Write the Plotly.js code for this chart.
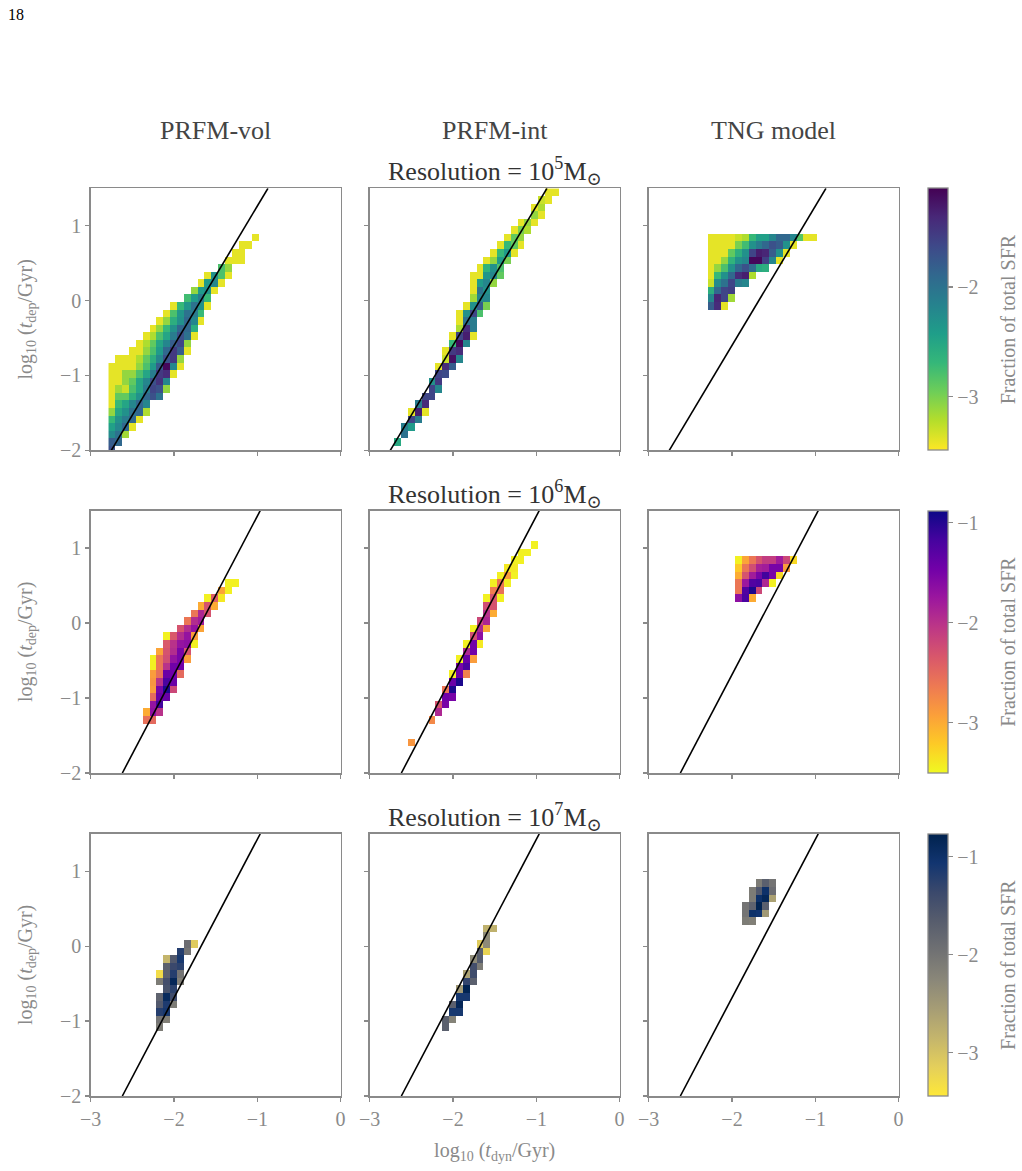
<!DOCTYPE html>
<html>
<head>
<meta charset="utf-8">
<script src="https://cdn.plot.ly/plotly-3.0.1.min.js"></script>
<style>html,body{margin:0;padding:0;background:#fff;}#plot{width:1022px;height:1171px;}</style>
</head>
<body>
<div id="plot"></div>
<script>
// ---------------- DATA ----------------
// shared histogram bin edges: log10(t_dyn/Gyr) (x) and log10(t_dep/Gyr) (y, top to bottom)
const tdynEdges = [-2.786,-2.704,-2.621,-2.539,-2.457,-2.375,-2.292,-2.210,-2.128,-2.045,-1.963,-1.881,-1.798,-1.716,-1.634,-1.552,-1.469,-1.387,-1.305,-1.222,-1.140,-1.058,-0.975,-0.893,-0.811,-0.729,-0.646];
const tdepEdges = [1.498,1.397,1.296,1.194,1.093,0.992,0.891,0.790,0.688,0.587,0.486,0.385,0.284,0.182,0.081,-0.020,-0.121,-0.222,-0.324,-0.425,-0.526,-0.627,-0.728,-0.830,-0.931,-1.032,-1.133,-1.234,-1.336,-1.437,-1.538,-1.639,-1.740,-1.842,-1.943,-2.044];

// each entry: [tdep bin index, first tdyn bin index, log10(fraction of total SFR) ...]
const vol5 = [
 [6,21,-3.4],[7,19,-3.4,-3.4],[8,18,-3.4,-3.4],[9,17,-3.4,-3.4,-3.4],[10,16,-2.8,-3.1],
 [11,14,-3.4,-2.3,-2.8,-3.4],[12,13,-3.4,-2.4,-2.2,-3.4],[13,12,-3.1,-2.4,-2.3,-3.4],
 [14,11,-2.75,-2.4,-2.1,-2.7],[15,9,-3.4,-2.7,-2.35,-2.0,-2.3,-3.4],[16,8,-3.4,-2.8,-2.35,-2.0,-2.1,-2.7],
 [17,7,-3.4,-3.1,-2.6,-2.3,-1.9,-2.2,-3.4],[18,6,-3.4,-3.1,-2.7,-2.3,-1.9,-1.9,-2.6],
 [19,5,-3.4,-3.2,-2.8,-2.5,-2.1,-1.7,-2.0,-3.4],[20,4,-3.4,-3.2,-2.9,-2.5,-2.2,-1.8,-1.6,-3.1],
 [21,3,-3.4,-3.4,-3.1,-2.8,-2.4,-1.9,-1.5,-1.8,-3.4],[22,1,-3.4,-3.4,-3.4,-3.2,-2.9,-2.6,-2.2,-1.7,-1.5,-3.1],
 [23,0,-3.4,-3.4,-3.4,-3.4,-3.1,-2.8,-2.4,-1.8,-1.15,-2.2,-3.4],[24,0,-3.4,-3.4,-3.1,-3.1,-2.8,-2.5,-2.1,-1.5,-1.4,-3.4],
 [25,0,-3.4,-3.4,-3.1,-2.9,-2.5,-2.2,-1.7,-1.45,-2.2],[26,0,-3.4,-3.15,-3.3,-2.8,-2.5,-2.1,-1.6,-1.7,-3.1],
 [27,0,-3.4,-2.9,-2.9,-2.6,-2.3,-1.9,-1.7,-2.0],[28,0,-3.4,-2.7,-2.5,-2.2,-1.9,-2.2],[29,0,-3.1,-2.5,-2.3,-2.0,-1.9,-3.2],
 [30,0,-2.7,-2.3,-2.1,-1.9,-3.4],[31,0,-2.45,-2.2,-1.9,-3.4],[32,0,-2.25,-2.0,-3.15],[33,0,-1.8,-1.9],[34,0,-1.7]
];
const int5 = [
 [0,23,-3.4,-3.4],[1,22,-3.3,-3.4],[2,21,-3.4,-3.2],[3,21,-3.1,-3.4],[4,19,-3.4,-3.1,-3.4],
 [5,18,-3.4,-3.0,-3.2],[6,17,-3.4,-2.9,-3.1],[7,16,-3.4,-2.7,-2.9,-3.4],[8,15,-3.4,-2.7,-2.4,-3.4],
 [9,14,-3.4,-3.1,-2.4,-3.0],[10,13,-3.4,-2.65,-2.3,-2.8],[11,12,-3.4,-3.4,-2.35,-2.2,-2.9],
 [12,12,-3.4,-2.4,-2.2,-3.1],[13,12,-3.4,-2.0,-2.3],[14,12,-3.15,-2.2,-2.2],[15,11,-3.4,-2.3,-1.8,-3.0],
 [16,10,-3.4,-2.3,-1.6,-2.8],[17,10,-3.4,-2.0,-2.1],[18,10,-3.2,-1.4,-2.1],[19,9,-3.4,-1.6,-1.3,-3.4],
 [20,9,-2.7,-1.15,-2.2],[21,8,-3.4,-1.5,-1.4],[22,8,-3.3,-1.2,-2.2],[23,7,-3.4,-1.4,-1.8],
 [24,7,-1.6,-1.65],[25,6,-2.3,-1.5],[26,6,-1.6,-2.2],[27,5,-1.6,-1.6],[28,4,-2.1,-1.4],
 [29,3,-3.4,-1.3,-3.4],[30,3,-1.6,-2.1],[31,2,-2.1,-2.4],[32,2,-2.0],[33,1,-2.55]
];
const tng5 = [
 [6,6,-3.4,-3.4,-3.4,-3.4,-3.3,-3.2,-2.7,-2.45,-2.45,-2.2,-1.9,-1.9,-2.2,-2.85,-3.4,-3.4],
 [7,6,-3.4,-3.4,-3.4,-3.4,-3.0,-2.75,-2.3,-2.1,-1.9,-1.7,-1.8,-2.3,-3.4],
 [8,6,-3.4,-3.4,-3.4,-2.9,-2.6,-2.3,-1.6,-1.3,-1.35,-1.8,-2.3,-3.4],
 [9,6,-3.4,-3.4,-3.1,-2.65,-2.3,-2.2,-1.15,-1.15,-1.55,-2.2,-3.4],
 [10,6,-3.4,-3.1,-2.8,-2.3,-1.9,-1.7,-1.95,-2.55,-2.6],
 [11,6,-3.4,-2.7,-2.3,-1.9,-1.4,-1.3,-3.2],[12,6,-3.3,-2.25,-2.0,-1.6,-2.1,-2.2],
 [13,6,-2.6,-1.9,-1.6,-1.55],[14,6,-2.2,-1.35,-1.6,-3.15],[15,6,-1.8,-1.4,-3.4]
];
const vol6 = [
 [9,17,-3.45,-3.45],[10,16,-2.95,-3.45],[11,14,-3.45,-2.4,-3.4],[12,13,-3.0,-2.3,-3.0],
 [13,12,-2.6,-1.9,-2.3],[14,11,-2.6,-1.95,-1.8],[15,10,-2.3,-1.95,-1.7,-2.95],
 [16,8,-3.45,-2.35,-1.95,-1.7,-2.9],[17,8,-2.35,-2.0,-1.7,-1.65,-3.45],[18,7,-2.95,-2.3,-1.95,-1.5,-2.3],
 [19,6,-3.45,-2.6,-2.25,-1.7,-1.5,-2.9],[20,6,-3.45,-2.6,-2.0,-1.45,-1.45],[21,6,-2.9,-2.55,-1.4,-1.45,-2.5],
 [22,6,-2.85,-2.0,-1.2,-1.4],[23,6,-2.9,-1.5,-0.95,-2.2],[24,6,-2.5,-1.4,-1.4],[25,6,-1.7,-1.15],
 [26,5,-3.0,-1.65,-2.0],[27,5,-2.55,-2.5]
];
const int6 = [
 [4,21,-3.45],[5,19,-3.45,-3.45],[6,18,-3.45,-3.45],[7,17,-3.4,-3.4],[8,16,-3.45,-2.9,-3.45],
 [9,15,-3.45,-2.6,-3.45],[10,15,-2.65,-2.55],[11,14,-3.45,-2.3,-3.45],[12,14,-2.25,-2.3],
 [13,14,-2.0,-3.0],[14,13,-2.2,-1.9],[15,12,-3.45,-1.9,-3.0],[16,12,-2.25,-1.65],[17,11,-3.45,-1.45,-3.4],
 [18,11,-1.9,-1.45],[19,10,-3.45,-1.4,-2.9],[20,10,-1.5,-1.2],[21,9,-3.45,-1.45,-2.7],[22,9,-1.4,-0.95],
 [23,8,-2.6,-0.95],[24,8,-1.45,-1.5],[25,7,-2.3,-1.5],[26,7,-1.9],[27,6,-2.75],[30,3,-2.85]
];
const tng6 = [
 [6,10,-3.45,-2.95,-2.6,-2.3,-2.1,-2.1,-1.8,-2.2,-3.3],[7,10,-3.2,-2.6,-2.25,-1.85,-1.8,-1.5,-1.5,-2.9],
 [8,10,-3.0,-2.3,-1.8,-1.5,-1.15,-1.5,-3.3],[9,10,-2.6,-1.75,-1.25,-1.2,-1.9,-3.45],
 [10,10,-2.6,-1.25,-0.95,-2.2],[11,10,-1.65,-1.2,-3.0]
];
const vol7 = [
 [14,11,-1.9,-3.1],[15,10,-1.2,-2.0],[16,8,-2.85,-1.6,-1.1],[17,8,-1.7,-1.35,-1.25],
 [18,7,-3.3,-1.7,-1.2,-2.0],[19,7,-2.1,-1.45,-0.85,-2.15],[20,8,-1.5,-1.25],[21,7,-1.75,-0.9,-1.4],
 [22,7,-1.6,-1.15,-2.1],[23,7,-1.2,-1.1],[24,7,-2.0,-2.15],[25,7,-2.1]
];
const int7 = [
 [12,14,-2.8,-2.8],[13,14,-2.3],[14,13,-3.1,-2.3],[15,13,-1.7,-3.2],[16,12,-2.3,-1.65],[17,12,-1.45,-2.1],
 [18,11,-2.6,-1.4],[19,11,-1.3,-1.7],[20,10,-2.5,-0.8],[21,10,-1.1,-1.1],[22,9,-1.7,-0.85],
 [23,9,-1.1,-1.1],[24,8,-1.7,-2.2],[25,8,-1.7]
];
const tng7 = [
 [6,13,-2.1,-1.7,-2.0],[7,12,-2.1,-1.6,-1.0,-1.9],[8,12,-2.1,-1.0,-0.85,-2.6],
 [9,11,-2.0,-1.75,-0.8,-1.7],[10,11,-2.0,-1.0,-1.05,-2.5],[11,11,-2.1,-2.15]
];

// reference relation lines (endpoints in data units)
const lineY = [-2, 1.5];
const lineX_res5 = [-2.753, -0.872];
const lineX_res67 = [-2.62, -0.965];

const columnTitles = ['PRFM-vol', 'PRFM-int', 'TNG model'];
const resolutionExp = ['5', '6', '7'];
const xTicks = [-3, -2, -1, 0];
const yTicks = [-2, -1, 0, 1];
const cbarRanges = [[-3.49, -1.10], [-3.50, -0.88], [-3.44, -0.765]];
const cbarTitle = 'Fraction of total SFR';

// ---------------- STYLE / LAYOUT ----------------
const W = 1022, H = 1171;
const FONT = 'Liberation Serif, DejaVu Serif, serif';
const GRAY = '#8a8a8a';
const colPx = [[90.7, 340.6], [369.7, 619.6], [648.7, 898.6]];
const rowPx = [[188.3, 450.3], [510.6, 773.0], [833.8, 1096.0]];

const viridisR = [[0,'#fde725'],[0.111,'#b5de2b'],[0.222,'#6ece58'],[0.333,'#35b779'],[0.444,'#1f9e89'],[0.556,'#26828e'],[0.667,'#31688e'],[0.778,'#3e4989'],[0.889,'#482878'],[1,'#440154']];
const plasmaR = [[0,'#f0f921'],[0.111,'#fdca26'],[0.222,'#fb9f3a'],[0.333,'#ed7953'],[0.444,'#d8576b'],[0.556,'#bd3786'],[0.667,'#9c179e'],[0.778,'#7201a8'],[0.889,'#46039f'],[1,'#0d0887']];
const cividisR = [[0,'#fee838'],[0.111,'#e4cf5b'],[0.222,'#c4b56c'],[0.333,'#a69d75'],[0.444,'#8a8779'],[0.556,'#707173'],[0.667,'#575d6d'],[0.778,'#3b496c'],[0.889,'#123570'],[1,'#00224e']];
const scales = [viridisR, plasmaR, cividisR];

function buildZ(rows) {
  const nR = tdepEdges.length - 1, nC = tdynEdges.length - 1;
  const z = [];
  for (let r = 0; r < nR; r++) z.push(new Array(nC).fill(null));
  rows.forEach(e => { const r = e[0], c0 = e[1]; for (let i = 2; i < e.length; i++) z[r][c0 + i - 2] = e[i]; });
  return z.reverse();
}
const yAsc = tdepEdges.slice().reverse();

const panels = [[vol5, int5, tng5], [vol6, int6, tng6], [vol7, int7, tng7]];
const traces = [];
const layout = {
  width: W, height: H, margin: {l: 0, r: 0, t: 0, b: 0},
  paper_bgcolor: '#fff', plot_bgcolor: '#fff', showlegend: false,
  font: {family: FONT, color: GRAY},
  annotations: []
};

for (let row = 0; row < 3; row++) {
  for (let col = 0; col < 3; col++) {
    const k = row * 3 + col + 1;
    const xa = 'x' + (k === 1 ? '' : k), ya = 'y' + (k === 1 ? '' : k);
    const ca = 'coloraxis' + (row === 0 ? '' : row + 1);
    traces.push({type: 'heatmap', x: tdynEdges, y: yAsc, z: buildZ(panels[row][col]),
      coloraxis: ca, xaxis: xa, yaxis: ya, hoverinfo: 'skip', zsmooth: false});
    traces.push({type: 'scatter', mode: 'lines', x: row === 0 ? lineX_res5 : lineX_res67, y: lineY,
      line: {color: '#000', width: 1.6}, xaxis: xa, yaxis: ya, hoverinfo: 'skip'});
    const axCommon = {showgrid: false, zeroline: false, showline: true, mirror: true,
      linecolor: GRAY, linewidth: 1.5, ticks: 'outside', ticklen: 4, tickwidth: 1.3, tickcolor: GRAY,
      tickfont: {size: 20, color: GRAY, family: FONT}, fixedrange: true};
    layout['xaxis' + (k === 1 ? '' : k)] = Object.assign({}, axCommon, {
      domain: [colPx[col][0] / W, colPx[col][1] / W], range: [-3, 0], anchor: ya,
      tickvals: xTicks, showticklabels: row === 2,
      title: (row === 2 && col === 1) ? {text: 'log<sub>10</sub> (<i>t</i><sub>dyn</sub>/Gyr)', font: {size: 20, color: GRAY, family: FONT}, standoff: 14} : undefined
    });
    layout['yaxis' + (k === 1 ? '' : k)] = Object.assign({}, axCommon, {
      domain: [1 - rowPx[row][1] / H, 1 - rowPx[row][0] / H], range: [-2, 1.5], anchor: xa,
      tickvals: yTicks, showticklabels: col === 0,
      title: col === 0 ? {text: 'log<sub>10</sub> (<i>t</i><sub>dep</sub>/Gyr)', font: {size: 20, color: GRAY, family: FONT}, standoff: 22} : undefined
    });
  }
  const cbLen = (rowPx[row][1] - rowPx[row][0]) / H;
  layout['coloraxis' + (row === 0 ? '' : row + 1)] = {
    colorscale: scales[row], cmin: cbarRanges[row][0], cmax: cbarRanges[row][1],
    colorbar: {x: 928 / W, xanchor: 'left', xref: 'paper', y: 1 - rowPx[row][0] / H, yanchor: 'top', yref: 'paper',
      len: cbLen, lenmode: 'fraction', thickness: 20, thicknessmode: 'pixels', xpad: 0, ypad: 0,
      outlinewidth: 1.3, outlinecolor: GRAY, borderwidth: 0,
      ticks: 'outside', ticklen: 5, tickwidth: 1.3, tickcolor: GRAY, tickvals: [-3, -2, -1],
      tickfont: {size: 20, color: GRAY, family: FONT}}
  };
  layout.annotations.push({text: cbarTitle, xref: 'paper', yref: 'paper', textangle: -90,
    x: 1008 / W, y: 1 - (rowPx[row][0] + rowPx[row][1]) / 2 / H, xanchor: 'center', yanchor: 'middle',
    showarrow: false, font: {size: 20, color: GRAY, family: FONT}});
  layout.annotations.push({text: 'Resolution = 10<sup>' + resolutionExp[row] + '</sup>M<sub>⊙</sub>',
    xref: 'paper', yref: 'paper', x: (colPx[1][0] + colPx[1][1]) / 2 / W, y: 1 - (rowPx[row][0] + 3) / H,
    xanchor: 'center', yanchor: 'bottom', showarrow: false, font: {size: 26, color: '#333', family: FONT}});
}
columnTitles.forEach((t, i) => layout.annotations.push({text: t, xref: 'paper', yref: 'paper',
  x: (colPx[i][0] + colPx[i][1]) / 2 / W, y: 1 - 130 / H, xanchor: 'center', yanchor: 'middle',
  showarrow: false, font: {size: 26, color: '#444', family: FONT}}));
layout.annotations.push({text: '18', xref: 'paper', yref: 'paper', x: 6 / W, y: 1 - 15 / H,
  xanchor: 'left', yanchor: 'middle', showarrow: false, font: {size: 16, color: '#000', family: FONT}});

Plotly.newPlot('plot', traces, layout, {staticPlot: true, displayModeBar: false});
</script>
</body>
</html>
